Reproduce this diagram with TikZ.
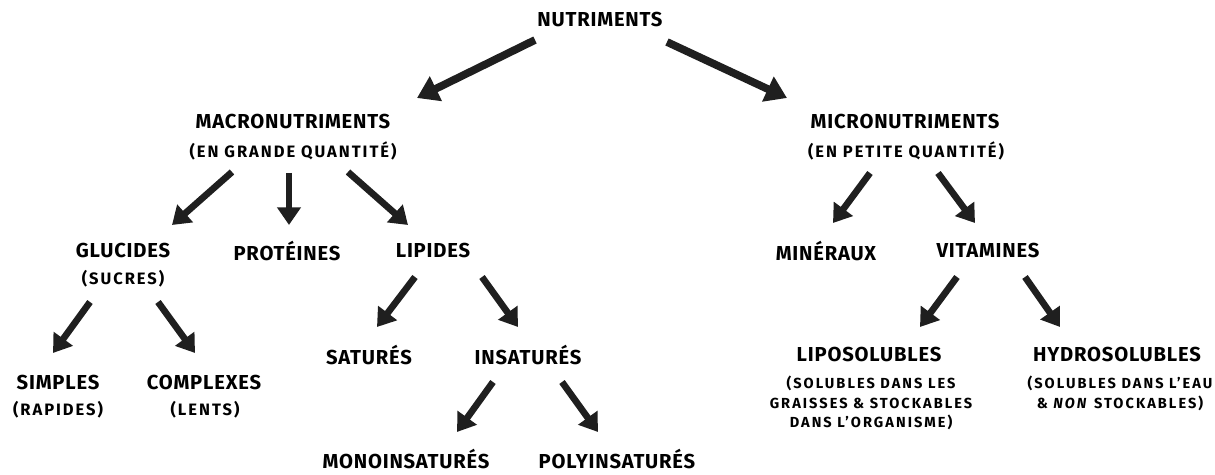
\documentclass[tikz,border=0pt]{standalone}
\usepackage{fontspec}
\setmainfont{Fira Sans}
\usepackage{tikz}
\usetikzlibrary{arrows.meta}
\usetikzlibrary{positioning}
\usepackage{xcolor}

\tikzset{
    titre/.style={font=\bfseries\fontsize{11.5}{13}\selectfont\addfontfeature{LetterSpace=4}, inner sep=0pt},
    soustitre/.style={font=\bfseries\fontsize{9.4}{10}\selectfont\addfontfeature{LetterSpace=12}, inner sep=0pt},
    note/.style={font=\bfseries\fontsize{8.3}{11.3}\selectfont\addfontfeature{LetterSpace=14}, inner sep=0pt, align=center},
    fleche/.style={-{Triangle[length=10pt,width=13pt]}, line width=3.8pt, black!88},
    grandefleche/.style={-{Triangle[length=12pt,width=15pt]}, line width=4.4pt, black!88}
}

\begin{document}
\begin{tikzpicture}[x=0.02cm, y=-0.02cm]
    % 1. Fix the frame (1 unit = 1 pixel of the sketch)
    \useasboundingbox (0,0) rectangle (1215,475);

    % 2. Top level
    \node[titre] (nutri) at (600,20) {NUTRIMENTS};

    % 3. Second level: macro and micro
    \node[titre] (macro) at (293,122) {MACRONUTRIMENTS};
    \node[soustitre] (macrosub) at (293,151) {(EN GRANDE QUANTITÉ)};
    \node[titre] (micro) at (905,122) {MICRONUTRIMENTS};
    \node[soustitre] (microsub) at (906,151) {(EN PETITE QUANTITÉ)};

    % 4. Third level
    \node[titre] (glucides) at (123,251) {GLUCIDES};
    \node[soustitre] (glucsub) at (123,279) {(SUCRES)};
    \node[titre] (proteines) at (287,251) {PROTÉINES};
    \node[titre] (lipides) at (433,251) {LIPIDES};
    \node[titre] (mineraux) at (826,251) {MINÉRAUX};
    \node[titre] (vitamines) at (988,251) {VITAMINES};

    % 5. Fourth level
    \node[titre] (simples) at (58,383) {SIMPLES};
    \node[soustitre] (simplesub) at (58,410) {(RAPIDES)};
    \node[titre] (complexes) at (204,383) {COMPLEXES};
    \node[soustitre] (complexsub) at (205,410) {(LENTS)};
    \node[titre] (satures) at (369,355) {SATURÉS};
    \node[titre] (insatures) at (528,355) {INSATURÉS};
    \node[titre] (lipo) at (869,355) {LIPOSOLUBLES};
    \node[note] (liposub) at (871,403) {(SOLUBLES DANS LES\\GRAISSES \& STOCKABLES\\DANS L'ORGANISME)};
    \node[titre] (hydro) at (1117,355) {HYDROSOLUBLES};
    \node[note] (hydrosub) at (1120,393) {(SOLUBLES DANS L'EAU\\\& \textit{NON} STOCKABLES)};

    % 6. Last level
    \node[titre] (mono) at (406,459) {MONOINSATURÉS};
    \node[titre] (poly) at (617,459) {POLYINSATURÉS};

    % 7. Arrows, from node to node
    \draw[grandefleche] ([shift={(-65,20)}]nutri.center) -- ([shift={(124,-24)}]macro.center);
    \draw[grandefleche] ([shift={(67,22)}]nutri.center) -- ([shift={(-118,-24)}]micro.center);

    \draw[fleche] ([shift={(-61,21)}]macrosub.center) -- ([shift={(49,-26)}]glucides.center);
    \draw[fleche] ([shift={(-4,22)}]macrosub.center) -- ([shift={(2,-26)}]proteines.center);
    \draw[fleche] ([shift={(55,21)}]macrosub.center) -- ([shift={(-25,-26)}]lipides.center);
    \draw[fleche] ([shift={(-36,22)}]microsub.center) -- ([shift={(7,-28)}]mineraux.center);
    \draw[fleche] ([shift={(32,22)}]microsub.center) -- ([shift={(-13,-28)}]vitamines.center);

    \draw[fleche] ([shift={(-33,23)}]glucsub.center) -- ([shift={(-5,-30)}]simples.center);
    \draw[fleche] ([shift={(35,23)}]glucsub.center) -- ([shift={(-9,-30)}]complexes.center);
    \draw[fleche] ([shift={(-18,26)}]lipides.center) -- ([shift={(8,-28)}]satures.center);
    \draw[fleche] ([shift={(49,26)}]lipides.center) -- ([shift={(-10,-28)}]insatures.center);
    \draw[fleche] ([shift={(-31,26)}]vitamines.center) -- ([shift={(51,-28)}]lipo.center);
    \draw[fleche] ([shift={(37,26)}]vitamines.center) -- ([shift={(-57,-28)}]hydro.center);

    \draw[fleche] ([shift={(-35,27)}]insatures.center) -- ([shift={(51,-27)}]mono.center);
    \draw[fleche] ([shift={(34,27)}]insatures.center) -- ([shift={(-19,-27)}]poly.center);

\end{tikzpicture}
\end{document}
